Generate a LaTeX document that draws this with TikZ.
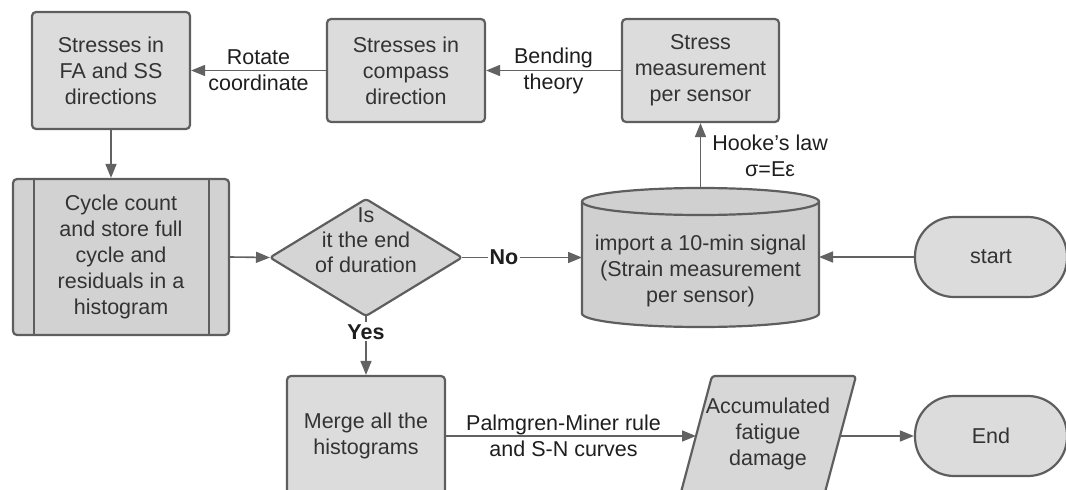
\documentclass[tikz,border=0pt]{standalone}
\usepackage{fontspec}
\setmainfont{Liberation Sans}
\usetikzlibrary{arrows.meta}

\definecolor{edgegray}{HTML}{5E5E5E}
\definecolor{linegray}{HTML}{626262}
\definecolor{boxfill}{HTML}{DCDCDC}
\definecolor{cyclefill}{HTML}{D2D2D2}
\definecolor{diamondfill}{HTML}{D5D5D5}
\definecolor{cylfill}{HTML}{D0D0D0}
\definecolor{accfill}{HTML}{D7D7D7}
\definecolor{boxtext}{HTML}{333333}
\definecolor{labeltext}{HTML}{1E1E1E}

\begin{document}
\begin{tikzpicture}[x=1pt,y=-1pt,
  every node/.style={font=\fontsize{21.5}{26}\selectfont},
  shapeborder/.style={draw=edgegray, line width=2.2pt, line join=round},
  procbox/.style={shapeborder, fill=boxfill, rounded corners=4pt, text=boxtext,
    align=center, inner sep=0pt},
  terminal/.style={procbox, rounded corners=39pt, minimum width=152pt, minimum height=80pt},
  hollow/.style={inner sep=0pt, outer sep=0pt},
  flow/.style={draw=linegray, line width=1.6pt, -{Triangle[length=14pt,width=11pt]}},
  lbl/.style={text=labeltext, align=center, inner sep=1pt},
  answer/.style={lbl, fill=white, inner sep=2pt,
    font=\fontsize{21.5}{26}\selectfont\bfseries}]

\useasboundingbox (0,0) rectangle (1066,490);

% process boxes along the top row
\node[procbox, minimum width=158pt, minimum height=117pt] (fass) at (111,70.5)
  {Stresses in\\FA and SS\\directions};
\node[procbox, minimum width=158pt, minimum height=103pt] (compass) at (406,70.5)
  {Stresses in\\compass\\direction};
\node[procbox, minimum width=157pt, minimum height=103pt] (persensor) at (700.5,70.5)
  {Stress\\measurement\\per sensor};

% predefined process: cycle counting
\node[procbox, fill=cyclefill, minimum width=216pt, minimum height=156pt] (cycle) at (121,257)
  {Cycle count\\and store full\\cycle and\\residuals in a\\histogram};
\draw[shapeborder] ([xshift=22pt]cycle.north west) -- ([xshift=22pt]cycle.south west);
\draw[shapeborder] ([xshift=-21pt]cycle.north east) -- ([xshift=-21pt]cycle.south east);

% decision
\node[hollow, minimum width=192pt, minimum height=117pt] (decide) at (366,257.5) {};
\draw[shapeborder, fill=diamondfill, rounded corners=3pt]
  (decide.west) -- (decide.north) -- (decide.east) -- (decide.south) -- cycle;
\node[text=boxtext, align=center, font=\fontsize{21.5}{25}\selectfont] (decidetext) at (366,240)
  {Is\\it the end\\of duration};

% data store: the imported signal
\node[hollow, minimum width=237pt, minimum height=139pt] (signal) at (700.5,257.5) {};
\draw[shapeborder, fill=cylfill]
  (582,201.5) -- (582,313.5)
  arc[start angle=180, end angle=0, x radius=118.5, y radius=13.5]
  -- (819,201.5)
  arc[start angle=0, end angle=-180, x radius=118.5, y radius=13.5] -- cycle;
\draw[shapeborder] (582,201.5) arc[start angle=180, end angle=0, x radius=118.5, y radius=13.5];
\node[text=boxtext, align=center] (signaltext) at (700.5,271)
  {import a 10-min signal\\(Strain measurement\\per sensor)};

% terminals
\node[terminal] (start) at (991,257) {start};
\node[terminal] (finish) at (991,436) {End};

% merging and result
\node[procbox, minimum width=158pt, minimum height=120pt] (merge) at (366,436)
  {Merge all the\\histograms};
\node[hollow, minimum width=144pt, minimum height=120pt] (damage) at (768,436) {};
\draw[shapeborder, fill=accfill, rounded corners=3pt]
  ([xshift=16pt]damage.north west) -- ([xshift=16pt]damage.north east)
  -- ([xshift=-16pt]damage.south east) -- ([xshift=-16pt]damage.south west) -- cycle;
\node[text=boxtext, align=center] (damagetext) at (768,434)
  {Accumulated\\fatigue\\damage};

% connectors
\draw[flow] (start.west) -- (start.west -| signal.east);
\draw[flow] (signal.north) -- node[lbl, anchor=west, xshift=10pt] {Hooke’s law\\σ=Eε} (persensor.south);
\draw[flow] (persensor) -- node[lbl] {Bending\\theory} (compass);
\draw[flow] (compass) -- node[lbl] {Rotate\\coordinate} (fass);
\draw[flow] (fass.south) -- (fass.south |- cycle.north);
\draw[flow] (cycle.east) -- (decide.west);
\draw[flow] (decide.east) -- node[answer, pos=0.35] {No} (decide.east -| signal.west);
\draw[flow] (decide.south) -- node[answer, pos=0.27] {Yes} (merge.north);
\draw[flow] (merge.east) -- node[lbl, pos=0.47] {Palmgren-Miner rule\\and S-N curves} (damage.west);
\draw[flow] (damage.east) -- (finish.west);

\end{tikzpicture}
\end{document}
